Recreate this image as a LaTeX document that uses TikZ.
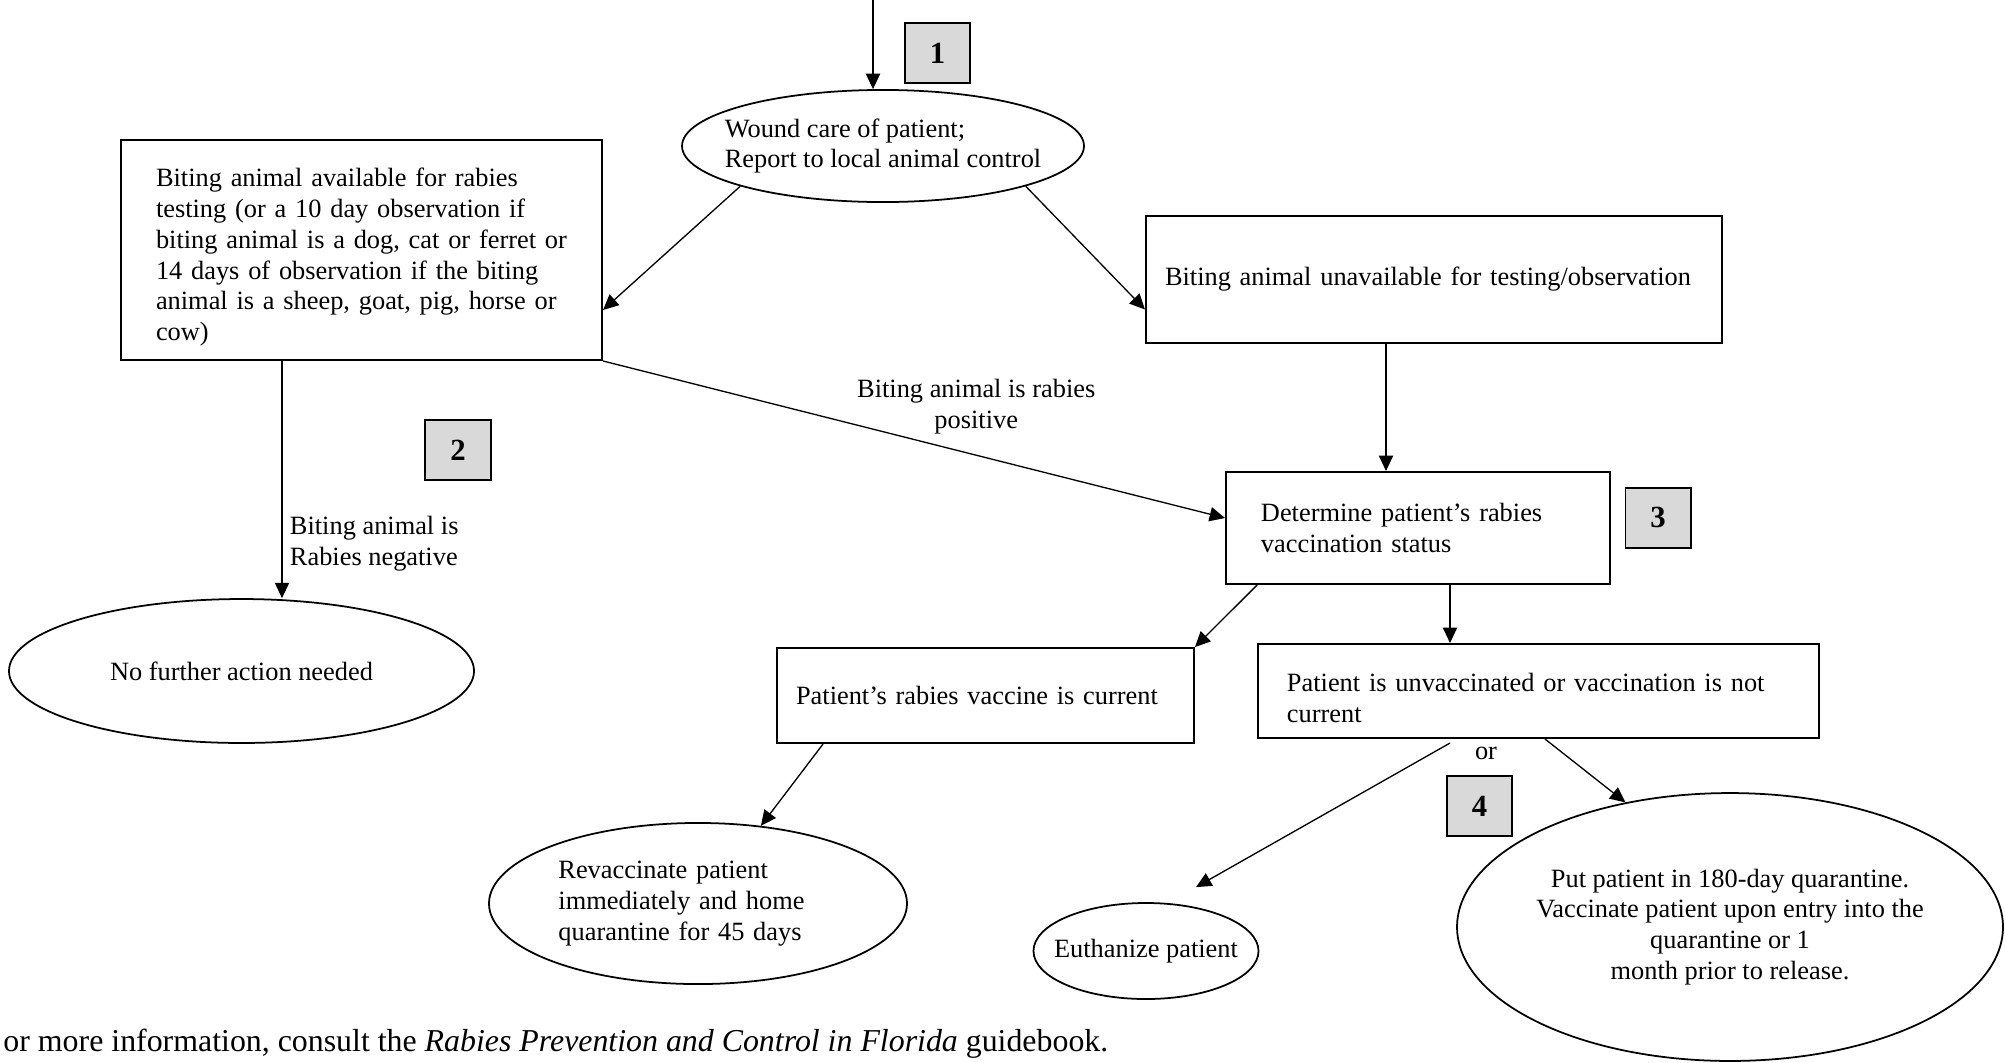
\documentclass[tikz,border=0pt]{standalone}
\usepackage{fontspec}
\setmainfont{Liberation Serif}
\usetikzlibrary{shapes.geometric,arrows.meta,calc}
\definecolor{boxgray}{HTML}{D9D9D9}
\tikzset{
  stepbox/.style={draw, line width=0.9pt, rectangle, align=left},
  endnode/.style={draw, line width=0.8pt, ellipse, inner xsep=-30pt, inner ysep=0pt},
  numbox/.style={draw, line width=0.9pt, fill=boxgray, minimum width=29.6pt, minimum height=27.3pt, font=\fontsize{14}{16}\selectfont\bfseries},
  flow/.style={-{Triangle[width=6.5pt,length=7pt]}, line width=0.6pt},
}

\begin{document}
\begin{tikzpicture}[x=0.455pt, y=-0.455pt, font=\fontsize{12}{14}\selectfont]
             \useasboundingbox (0, 0) rectangle (2005, 1062);
             % top of the chart
             \node[endnode, minimum width=182.9pt, minimum height=51pt, align=left] (wound) at (883, 146) {Wound care of patient;\\Report to local animal control};
             \node[numbox] (one) at (937.5, 53) {1};
             \coordinate (start) at (873, 0);
             \draw[flow] (start) -- (start |- wound.north);
             % animal available / unavailable
             \node[stepbox, minimum width=218.9pt, minimum height=100.1pt, text width=187pt, text height=15pt] (avail) at (361.5, 250) {Biting animal available for rabies\\testing (or a 10 day observation if\\biting animal is a dog, cat or ferret or\\14 days of observation if the biting\\animal is a sheep, goat, pig, horse or\\cow)};
             \node[stepbox, minimum width=262.1pt, minimum height=57.8pt, text width=244.8pt] (unavail) at (1434, 279.5) {Biting animal unavailable for testing/observation};
             \draw[flow] (wound.south west) -- ($(avail.east)+(0, 60)$);
             \draw[flow] (wound.south east) -- ($(unavail.west)+(0, 30)$);
             \node[numbox] (two) at (458, 450) {2};
             \node[endnode, minimum width=211.6pt, minimum height=65.5pt] (nofurther) at (241.5, 671) {No further action needed};
             \coordinate (neg) at ($(avail.south)+(-79.5, 0)$);
             \draw[flow] (neg) -- (neg |- nofurther.north) node[pos=0.77, right, align=left] {Biting animal is\\Rabies negative};
             % vaccination status
             \node[stepbox, minimum width=174.7pt, minimum height=51pt, text width=142.9pt] (determine) at (1418, 528) {Determine patient’s rabies\\vaccination status};
             \node[numbox] (three) at (1658, 517.5) {3};
             \draw[flow] (avail.south east) -- ($(determine.west)+(0, -10)$) node[pos=0.6, above=6pt, align=center] {Biting animal is rabies\\positive};
             \coordinate (down) at ($(unavail.south)+(-48, 0)$);
             \draw[flow] (down) -- (down |- determine.north);
             \node[stepbox, minimum width=189.7pt, minimum height=43.2pt, text width=172.4pt] (current) at (985.5, 695.5) {Patient’s rabies vaccine is current};
             \node[stepbox, minimum width=255.3pt, minimum height=42.8pt, text width=228.9pt, inner ysep=0pt, text height=15pt] (unvacc) at (1538.5, 691) {Patient is unvaccinated or vaccination is not\\current};
             \draw[flow] ($(determine.south west)+(32, 0)$) -- (current.north east);
             \coordinate (dv) at ($(determine.south)+(32, 0)$);
             \draw[flow] (dv) -- (dv |- unvacc.north);
             % outcomes
             \node[endnode, minimum width=190.2pt, minimum height=73.3pt, text width=127pt, align=left] (revacc) at (698, 903.5) {Revaccinate patient\\immediately and home\\quarantine for 45 days};
             \node[endnode, minimum width=102.4pt, minimum height=43.7pt] (euth) at (1146, 951) {Euthanize patient};
             \node[endnode, minimum width=248.4pt, minimum height=121.9pt, align=center] (quar) at (1730, 927) {Put patient in 180-day quarantine.\\Vaccinate patient upon entry into the\\quarantine or 1\\month prior to release.};
             \draw[flow] ($(current.south west)+(47, 0)$) -- (revacc.51);
             \draw[flow] ($(unvacc.south)+(-88.5, 4)$) -- ($(euth.north)+(50, -15)$);
             \draw[flow] ($(unvacc.south)+(6.5, 0)$) -- (quar.130);
             \node (or) at (1486, 753) {or};
             \node[numbox] (four) at (1479.5, 806) {4};
             % footnote
             \node[anchor=west, inner sep=0pt, font=\fontsize{14.5}{16}\selectfont] (note) at (3, 1044) {or more information, consult the \textit{Rabies Prevention and Control in Florida} guidebook.};
         \end{tikzpicture}
\end{document}
